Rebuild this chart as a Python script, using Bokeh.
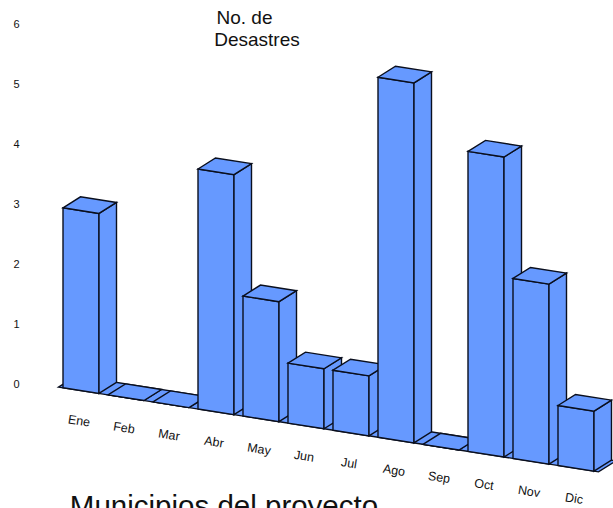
from math import atan
from bokeh.embed import file_html
from bokeh.resources import INLINE
from bokeh.plotting import figure
from bokeh.models import FixedTicker, Label
from bokeh.core.properties import value

months = ["Ene", "Feb", "Mar", "Abr", "May", "Jun", "Jul", "Ago", "Sep", "Oct", "Nov", "Dic"]
disasters = [3, 0, 0, 4, 2, 1, 1, 6, 0, 5, 3, 1]
y_ticks = [0, 1, 2, 3, 4, 5, 6]
title_lines = ["No. de", "Desastres"]
x_title = "Municipios del proyecto"

BLUE = "#6699FF"
INK = "#0A0F1E"
FONT = "Liberation Sans"
W, H = 613, 508
LEFT = 23
PX_CAT, PX_VAL = 45.0, 60.0   # pixels per category / per value unit
BAR = 0.8                     # bar width in categories
SLOPE = 0.157
SHEAR = SLOPE * PX_CAT / PX_VAL
BASE = -3.9 / PX_VAL
DX, DY = 17.5 / PX_CAT, 11.0 / PX_VAL
ORIGIN_X, ORIGIN_Y = 62.5, 383.4


def pj(i, v, d=0.0):
    """Oblique projection of (category position, value, depth 0..1) to plot coords."""
    return i + d * DX, v + BASE - SHEAR * i + d * DY


def page(px, py):
    """Window pixel to plot coords, for the free-standing texts."""
    return (px - ORIGIN_X) / PX_CAT, (ORIGIN_Y - py) / PX_VAL


x0, y1 = page(LEFT, 0)
x1, y0 = page(W, H)

p = figure(width=W, height=H, output_backend="svg", toolbar_location=None,
           x_range=(x0, x1), y_range=(y0, y1), x_axis_location=None,
           min_border_left=LEFT, min_border_right=0, min_border_top=0, min_border_bottom=0)
p.grid.visible = False
p.outline_line_color = None
p.background_fill_color = "white"

ax = p.yaxis[0]
ax.ticker = FixedTicker(ticks=y_ticks)
ax.axis_line_color = None
ax.major_tick_line_color = None
ax.minor_tick_line_color = None
ax.major_tick_out = 0
ax.major_label_standoff = 4
ax.major_label_text_font = FONT
ax.major_label_text_font_size = "11px"
ax.major_label_text_color = "#111111"


def quad(a, b, c, d):
    pts = [a, b, c, d]
    return [q[0] for q in pts], [q[1] for q in pts]


xs, ys = [], []
# floor
fx, fy = quad(pj(-0.1, 0), pj(11.9, 0), pj(11.9, 0, 1), pj(-0.1, 0, 1))
xs.append(fx); ys.append(fy)
# bars, back to front (left to right)
for i, v in enumerate(disasters):
    l, r = i, i + BAR
    for a, b, c, d in (
        (pj(l, 0), pj(r, 0), pj(r, v), pj(l, v)),              # front
        (pj(r, 0), pj(r, 0, 1), pj(r, v, 1), pj(r, v)),        # side
        (pj(l, v), pj(r, v), pj(r, v, 1), pj(l, v, 1)),        # top
    ):
        qx, qy = quad(a, b, c, d)
        xs.append(qx); ys.append(qy)

p.patches(xs, ys, fill_color=BLUE, line_color=INK, line_width=1.4, line_join="miter")

# slanted category labels
lab_x = [i + 0.356 for i in range(len(months))]
lab_y = [-0.617 - SHEAR * i for i in range(len(months))]
p.text(lab_x, lab_y, text=months, angle=-atan(SLOPE), text_align="center",
       text_baseline="middle", text_font=value(FONT), text_font_size="12.5px", text_color="#111111")

for txt, (cx, cy), size in (
    (title_lines[0], (244, 17), "19px"),
    (title_lines[1], (256.5, 39), "19px"),
    (x_title, (223.5, 505), "29.5px"),
):
    lx, ly = page(cx, cy)
    p.add_layout(Label(x=lx, y=ly, text=txt, text_align="center", text_baseline="middle",
                       text_font=FONT, text_font_size=size, text_color="#111111"))

open("out.html", "w").write(file_html(p, INLINE))
